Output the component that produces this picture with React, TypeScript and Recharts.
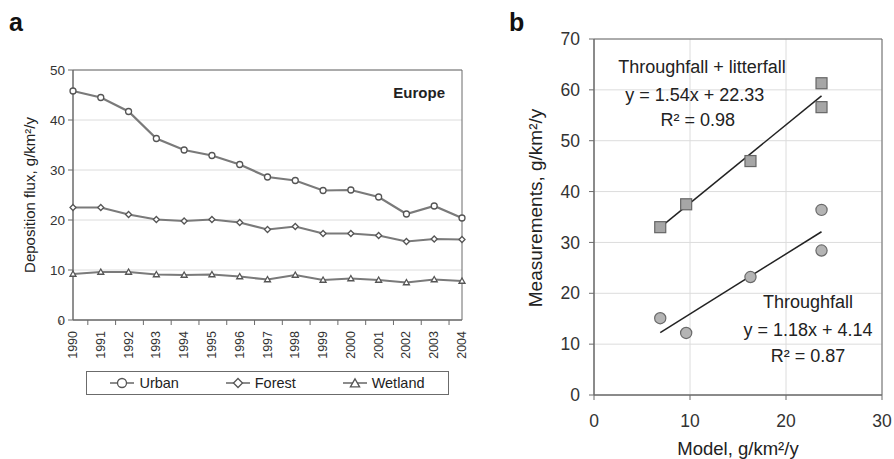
import React from "react";
import {
  LineChart,
  Line,
  XAxis,
  YAxis,
  CartesianGrid,
  Legend,
  ReferenceArea,
  ReferenceDot,
  ScatterChart,
  Scatter,
} from "recharts";

const FONT = '"Liberation Sans", Arial, Helvetica, sans-serif';
const AXIS = "#6b6b6b";
const GRID = "#dcdcdc";

// panel a: deposition flux by year
const years = [1990, 1991, 1992, 1993, 1994, 1995, 1996, 1997, 1998, 1999, 2000, 2001, 2002, 2003, 2004];
const urban = [45.8, 44.5, 41.7, 36.3, 34.0, 32.9, 31.1, 28.6, 27.9, 25.9, 26.0, 24.6, 21.2, 22.8, 20.4];
const forest = [22.5, 22.5, 21.1, 20.1, 19.8, 20.1, 19.5, 18.1, 18.7, 17.3, 17.3, 16.9, 15.7, 16.2, 16.1];
const wetland = [9.2, 9.6, 9.6, 9.1, 9.0, 9.1, 8.7, 8.1, 9.0, 8.0, 8.3, 8.0, 7.5, 8.1, 7.8];
const fluxTicks = [0, 10, 20, 30, 40, 50];

// panel b: model vs measurements
const modelX = [6.9, 9.6, 16.3, 23.7, 23.7];
const litterY = [33.0, 37.5, 46.0, 61.3, 56.6];
const throughY = [15.1, 12.2, 23.2, 36.4, 28.4];
const litterFitX = [6.9, 23.7];
const litterFitY = [32.96, 58.83];
const throughFitX = [6.9, 23.7];
const throughFitY = [12.28, 32.1];
const modelTicks = [0, 10, 20, 30];
const measTicks = [0, 10, 20, 30, 40, 50, 60, 70];

const fluxRows = years.map((year, i) => ({
  year,
  urban: urban[i],
  forest: forest[i],
  wetland: wetland[i],
}));

const toPoints = (xs: number[], ys: number[]) => xs.map((x, i) => ({ x, y: ys[i] }));

const LEFT_W = 470;
const LEFT_PLOT_W = 389; // 73 .. 462
const BAND = LEFT_PLOT_W / years.length;

function CircleDot(props: any) {
  const { cx, cy, r = 5 } = props;
  if (cx == null || cy == null) return null;
  return <circle cx={cx} cy={cy} r={r} fill="#fff" stroke="#555" strokeWidth={1.3} />;
}

function DiamondDot(props: any) {
  const { cx, cy, r = 5 } = props;
  if (cx == null || cy == null) return null;
  return (
    <polygon
      points={`${cx},${cy - r} ${cx + r},${cy} ${cx},${cy + r} ${cx - r},${cy}`}
      fill="#fff"
      stroke="#555"
      strokeWidth={1.3}
    />
  );
}

function TriangleDot(props: any) {
  const { cx, cy, r = 5.2 } = props;
  if (cx == null || cy == null) return null;
  return (
    <polygon
      points={`${cx},${cy - r} ${cx + r},${cy + r * 0.75} ${cx - r},${cy + r * 0.75}`}
      fill="#fff"
      stroke="#555"
      strokeWidth={1.3}
    />
  );
}

function YearTick(props: any) {
  const { x, y, payload } = props;
  const idx = years.indexOf(Number(payload.value));
  const half = BAND / 2;
  const ty = y + 11;
  return (
    <g>
      <line x1={x - half} x2={x - half} y1={y} y2={y + 5} stroke={AXIS} />
      {idx === years.length - 1 && (
        <line x1={x + half} x2={x + half} y1={y} y2={y + 5} stroke={AXIS} />
      )}
      <text
        x={x}
        y={ty}
        transform={`rotate(-90, ${x}, ${ty})`}
        textAnchor="end"
        dominantBaseline="central"
        fontSize={12.5}
        fill="#333"
        fontFamily={FONT}
      >
        {payload.value}
      </text>
    </g>
  );
}

function LegendIcon({ kind }: { kind: string }) {
  return (
    <svg width={24} height={12} style={{ marginRight: 5 }}>
      <line x1={0} x2={24} y1={6} y2={6} stroke="#666" strokeWidth={1.5} />
      {kind === "urban" && <CircleDot cx={12} cy={6} r={4.5} />}
      {kind === "forest" && <DiamondDot cx={12} cy={6} r={4.5} />}
      {kind === "wetland" && <TriangleDot cx={12} cy={6.5} r={4.6} />}
    </svg>
  );
}

const legendItems = [
  { key: "urban", name: "Urban" },
  { key: "forest", name: "Forest" },
  { key: "wetland", name: "Wetland" },
];

function FluxLegend() {
  return (
    <div
      style={{
        boxSizing: "border-box",
        width: 363,
        height: 24,
        border: `1px solid ${AXIS}`,
        display: "flex",
        justifyContent: "space-around",
        alignItems: "center",
        fontFamily: FONT,
        fontSize: 14.5,
        color: "#222",
      }}
    >
      {legendItems.map((it) => (
        <span key={it.key} style={{ display: "flex", alignItems: "center" }}>
          <LegendIcon kind={it.key} />
          {it.name}
        </span>
      ))}
    </div>
  );
}

function FluxChart() {
  return (
    <LineChart
      width={LEFT_W}
      height={459}
      data={fluxRows}
      margin={{ top: 70, right: LEFT_W - 462, left: 0, bottom: 64 }}
      style={{ fontFamily: FONT }}
    >
      <CartesianGrid vertical={false} stroke={GRID} />
      <XAxis
        dataKey="year"
        interval={0}
        height={51}
        tickSize={0}
        tickMargin={0}
        tickLine={false}
        axisLine={{ stroke: AXIS }}
        tick={<YearTick />}
      />
      <YAxis
        domain={[0, 50]}
        ticks={fluxTicks}
        width={73}
        tickSize={5}
        tickMargin={3}
        axisLine={{ stroke: AXIS }}
        tickLine={{ stroke: AXIS }}
        tick={{ fill: "#333", fontSize: 13.5 }}
        label={{
          content: () => (
            <text
              x={29}
              y={195}
              transform="rotate(-90, 29, 195)"
              textAnchor="middle"
              dominantBaseline="central"
              fontSize={15}
              fill="#222"
              fontFamily={FONT}
            >
              Deposition flux, g/km²/y
            </text>
          ),
        }}
      />
      <ReferenceArea
        y1={0}
        y2={50}
        fill="none"
        stroke={AXIS}
        label={{
          value: "Europe",
          position: "insideTopRight",
          offset: 17,
          fontSize: 15,
          fontWeight: "bold",
          fill: "#222",
        }}
      />
      <Legend
        verticalAlign="bottom"
        wrapperStyle={{ left: 86, width: 363 }}
        content={<FluxLegend />}
      />
      <Line dataKey="urban" name="Urban" stroke="#7a7a7a" strokeWidth={2.2} dot={<CircleDot />} isAnimationActive={false} />
      <Line dataKey="forest" name="Forest" stroke="#7a7a7a" strokeWidth={2.2} dot={<DiamondDot />} isAnimationActive={false} />
      <Line dataKey="wetland" name="Wetland" stroke="#7a7a7a" strokeWidth={2.2} dot={<TriangleDot />} isAnimationActive={false} />
    </LineChart>
  );
}

function SquareMark(props: any) {
  const { cx, cy } = props;
  if (cx == null || cy == null) return <g />;
  return <rect x={cx - 5.5} y={cy - 5.5} width={11} height={11} fill="#a6a6a6" stroke="#666" strokeWidth={1.2} />;
}

function RoundMark(props: any) {
  const { cx, cy } = props;
  if (cx == null || cy == null) return <g />;
  return <circle cx={cx} cy={cy} r={5.6} fill="#b4b4b4" stroke="#6a6a6a" strokeWidth={1.2} />;
}

const NoMark = () => <g />;

const noteStyle = { fontSize: 18, fill: "#222", fontFamily: FONT };

function ModelChart() {
  return (
    <ScatterChart
      width={424}
      height={459}
      margin={{ top: 39, right: 12, left: 0, bottom: 0 }}
      style={{ fontFamily: FONT }}
    >
      <CartesianGrid stroke={GRID} />
      <XAxis
        type="number"
        dataKey="x"
        domain={[0, 30]}
        ticks={modelTicks}
        height={64}
        tickSize={5}
        tickMargin={15}
        axisLine={{ stroke: AXIS }}
        tickLine={{ stroke: AXIS }}
        tick={{ fill: "#333", fontSize: 17.5 }}
        label={{
          content: (p: any) => {
            const vb = p.viewBox || { x: 124, y: 395, width: 288 };
            const cx = vb.x + vb.width / 2;
            return (
              <text x={cx} y={vb.y + 53} textAnchor="middle" dominantBaseline="central" fontSize={18.5} fill="#222" fontFamily={FONT}>
                Model, g/km²/y
              </text>
            );
          },
        }}
      />
      <YAxis
        type="number"
        dataKey="y"
        domain={[0, 70]}
        ticks={measTicks}
        width={124}
        tickSize={5}
        tickMargin={9}
        axisLine={{ stroke: AXIS }}
        tickLine={{ stroke: AXIS }}
        tick={{ fill: "#333", fontSize: 17.5 }}
        label={{
          content: () => (
            <text
              x={65}
              y={208}
              transform="rotate(-90, 65, 208)"
              textAnchor="middle"
              dominantBaseline="central"
              fontSize={19}
              fill="#222"
              fontFamily={FONT}
            >
              Measurements, g/km²/y
            </text>
          ),
        }}
      />
      <ReferenceArea x1={0} x2={30} y1={0} y2={70} fill="none" stroke={AXIS} />
      <ReferenceDot x={11.25} y={64.5} r={0} stroke="none" label={{ value: "Throughfall + litterfall", position: "center", ...noteStyle }} />
      <ReferenceDot x={10.5} y={59.0} r={0} stroke="none" label={{ value: "y = 1.54x + 22.33", position: "center", ...noteStyle }} />
      <ReferenceDot x={10.8} y={54.1} r={0} stroke="none" label={{ value: "R² = 0.98", position: "center", ...noteStyle }} />
      <ReferenceDot x={22.3} y={18.3} r={0} stroke="none" label={{ value: "Throughfall", position: "center", ...noteStyle }} />
      <ReferenceDot x={22.3} y={12.8} r={0} stroke="none" label={{ value: "y = 1.18x + 4.14", position: "center", ...noteStyle }} />
      <ReferenceDot x={22.3} y={7.7} r={0} stroke="none" label={{ value: "R² = 0.87", position: "center", ...noteStyle }} />
      <Scatter
        data={toPoints(litterFitX, litterFitY)}
        line={{ stroke: "#222", strokeWidth: 1.5 }}
        shape={NoMark}
        isAnimationActive={false}
      />
      <Scatter
        data={toPoints(throughFitX, throughFitY)}
        line={{ stroke: "#222", strokeWidth: 1.5 }}
        shape={NoMark}
        isAnimationActive={false}
      />
      <Scatter data={toPoints(modelX, litterY)} shape={SquareMark} isAnimationActive={false} />
      <Scatter data={toPoints(modelX, throughY)} shape={RoundMark} isAnimationActive={false} />
    </ScatterChart>
  );
}

export default function App() {
  return (
    <div
      style={{
        position: "absolute",
        left: 0,
        top: 0,
        width: 894,
        height: 459,
        background: "#fff",
        fontFamily: FONT,
        overflow: "hidden",
      }}
    >
      <div style={{ position: "absolute", left: 0, top: 0 }}>
        <FluxChart />
      </div>
      <div style={{ position: "absolute", left: LEFT_W, top: 0 }}>
        <ModelChart />
      </div>
      <div style={{ position: "absolute", left: 9, top: 8, fontSize: 25, fontWeight: "bold", color: "#111" }}>a</div>
      <div style={{ position: "absolute", left: 509, top: 8, fontSize: 25, fontWeight: "bold", color: "#111" }}>b</div>
    </div>
  );
}
